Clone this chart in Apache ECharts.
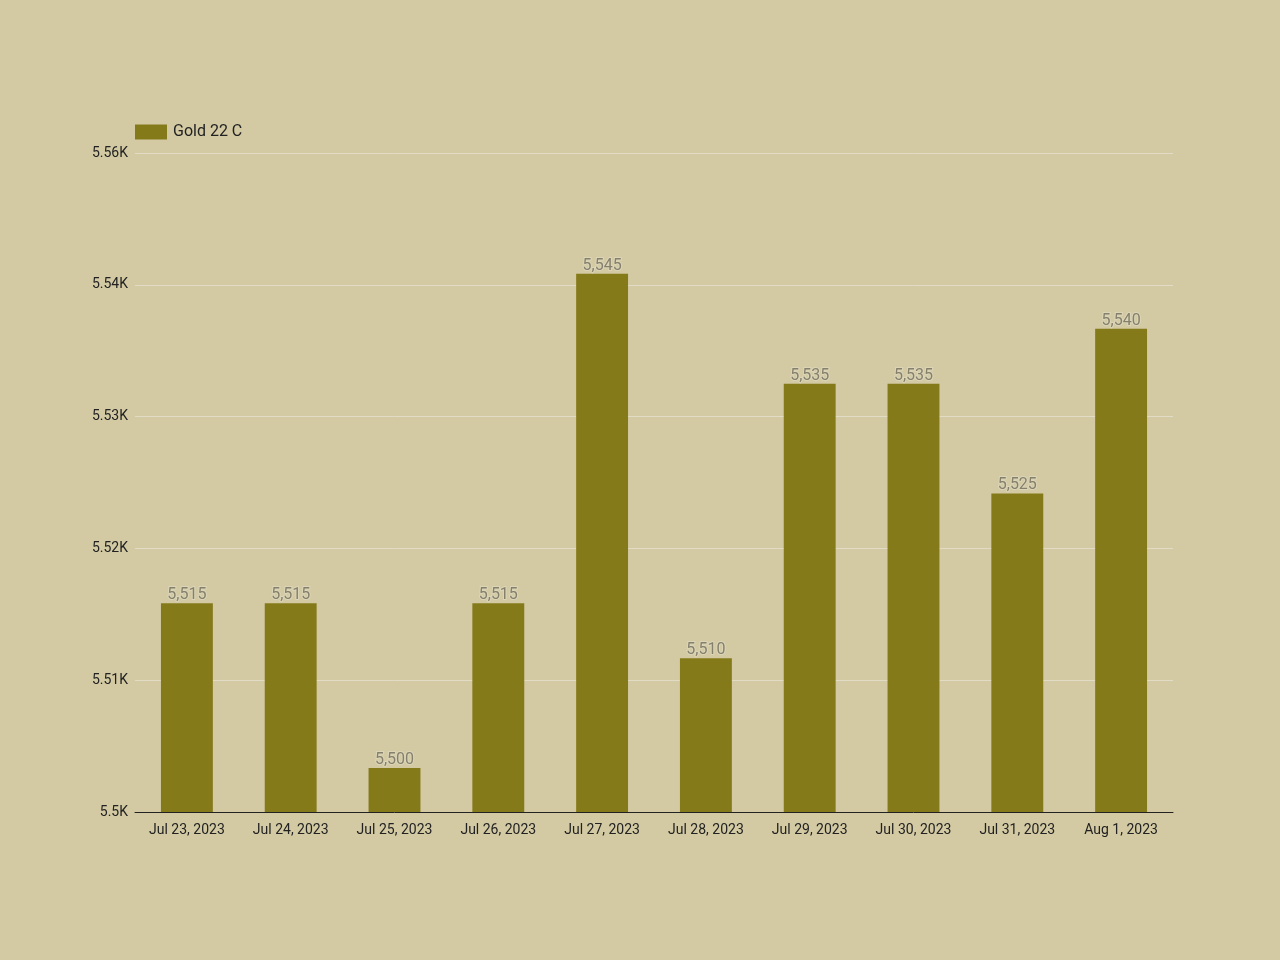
<!DOCTYPE html>
<html><head><meta charset="utf-8">
<script src="https://cdn.jsdelivr.net/npm/echarts@6/dist/echarts.min.js"></script>
<style>html,body{margin:0;padding:0;background:#d3caa3;}#c{width:1280px;height:960px;}</style>
</head><body><div id="c"></div>
<script>
const categories = ['Jul 23, 2023','Jul 24, 2023','Jul 25, 2023','Jul 26, 2023','Jul 27, 2023','Jul 28, 2023','Jul 29, 2023','Jul 30, 2023','Jul 31, 2023','Aug 1, 2023'];
const gold22 = [5515, 5515, 5500, 5515, 5545, 5510, 5535, 5535, 5525, 5540];
const tickLabels = ['5.5K','5.51K','5.52K','5.53K','5.54K','5.56K'];
const axisMin = 5496, axisMax = 5556, axisStep = 12;

const chart = echarts.init(document.getElementById('c'));
chart.setOption({
  backgroundColor: '#d3caa3',
  textStyle: { fontFamily: 'Roboto' },
  legend: {
    left: 135, top: 124, padding: 0, itemWidth: 32, itemHeight: 15, itemGap: 6,
    icon: 'rect',
    textStyle: { fontSize: 16, color: '#222', fontFamily: 'Roboto', padding: [2, 0, 0, 1] },
    data: ['Gold 22 C']
  },
  grid: { left: 135, right: 107, top: 153, bottom: 148, containLabel: false },
  xAxis: {
    type: 'category', data: categories,
    axisLine: { lineStyle: { color: '#222', width: 1 } },
    axisTick: { show: false },
    axisLabel: { color: '#222', fontSize: 14, margin: 11, fontFamily: 'Roboto' }
  },
  yAxis: {
    type: 'value', min: axisMin, max: axisMax, interval: axisStep,
    axisLine: { show: false }, axisTick: { show: false },
    splitLine: { lineStyle: { color: '#e2dcc6', width: 1 } },
    axisLabel: {
      color: '#222', fontSize: 14, margin: 7, fontFamily: 'Roboto', padding: [4, 0, 0, 0],
      formatter: v => tickLabels[Math.round((v - axisMin) / axisStep)] || ''
    }
  },
  series: [{
    name: 'Gold 22 C', type: 'bar', data: gold22, barWidth: '50%',
    itemStyle: { color: '#857a1a' },
    label: {
      show: true, position: 'top', distance: 0, color: '#85806c', fontSize: 16,
      fontFamily: 'Roboto', textBorderColor: '#dcd5b8', textBorderWidth: 2,
      formatter: p => p.value.toLocaleString('en-US')
    }
  }]
});
</script></body></html>
